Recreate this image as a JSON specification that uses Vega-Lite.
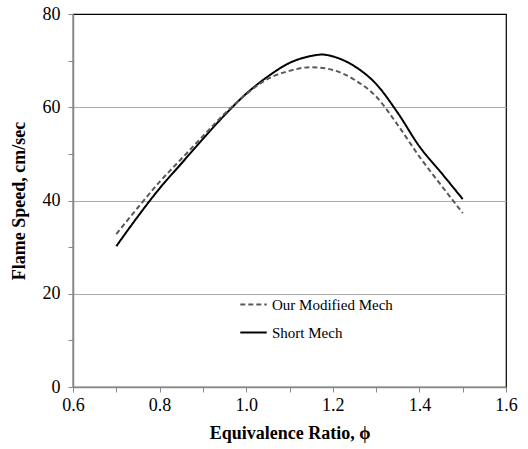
{
  "$schema": "https://vega.github.io/schema/vega-lite/v6.json",
  "width": 433,
  "height": 373,
  "autosize": "none",
  "padding": {"left": 73, "top": 14, "right": 22, "bottom": 62},
  "background": "white",
  "config": {
    "font": "Liberation Serif",
    "view": {"stroke": "#000", "strokeWidth": 1.2}
  },
  "data": {
    "values": [
      {"phi": 0.7, "speed": 30.2, "mech": "Short Mech"},
      {"phi": 0.75, "speed": 36.6, "mech": "Short Mech"},
      {"phi": 0.8, "speed": 42.6, "mech": "Short Mech"},
      {"phi": 0.85, "speed": 47.9, "mech": "Short Mech"},
      {"phi": 0.9, "speed": 53.2, "mech": "Short Mech"},
      {"phi": 0.95, "speed": 58.3, "mech": "Short Mech"},
      {"phi": 1.0, "speed": 62.9, "mech": "Short Mech"},
      {"phi": 1.05, "speed": 66.6, "mech": "Short Mech"},
      {"phi": 1.1, "speed": 69.5, "mech": "Short Mech"},
      {"phi": 1.15, "speed": 71.0, "mech": "Short Mech"},
      {"phi": 1.175, "speed": 71.3, "mech": "Short Mech"},
      {"phi": 1.2, "speed": 70.9, "mech": "Short Mech"},
      {"phi": 1.25, "speed": 68.8, "mech": "Short Mech"},
      {"phi": 1.3, "speed": 65.0, "mech": "Short Mech"},
      {"phi": 1.35, "speed": 58.8, "mech": "Short Mech"},
      {"phi": 1.4, "speed": 51.6, "mech": "Short Mech"},
      {"phi": 1.45, "speed": 46.0, "mech": "Short Mech"},
      {"phi": 1.5, "speed": 40.3, "mech": "Short Mech"},
      {"phi": 0.7, "speed": 32.8, "mech": "Our Modified Mech"},
      {"phi": 0.75, "speed": 38.5, "mech": "Our Modified Mech"},
      {"phi": 0.8, "speed": 44.0, "mech": "Our Modified Mech"},
      {"phi": 0.85, "speed": 48.9, "mech": "Our Modified Mech"},
      {"phi": 0.9, "speed": 53.8, "mech": "Our Modified Mech"},
      {"phi": 0.95, "speed": 58.6, "mech": "Our Modified Mech"},
      {"phi": 1.0, "speed": 62.8, "mech": "Our Modified Mech"},
      {"phi": 1.05, "speed": 66.1, "mech": "Our Modified Mech"},
      {"phi": 1.1, "speed": 67.8, "mech": "Our Modified Mech"},
      {"phi": 1.15, "speed": 68.6, "mech": "Our Modified Mech"},
      {"phi": 1.2, "speed": 68.0, "mech": "Our Modified Mech"},
      {"phi": 1.25, "speed": 65.9, "mech": "Our Modified Mech"},
      {"phi": 1.3, "speed": 62.3, "mech": "Our Modified Mech"},
      {"phi": 1.35, "speed": 56.2, "mech": "Our Modified Mech"},
      {"phi": 1.4, "speed": 49.4, "mech": "Our Modified Mech"},
      {"phi": 1.45, "speed": 43.3, "mech": "Our Modified Mech"},
      {"phi": 1.5, "speed": 37.3, "mech": "Our Modified Mech"}
    ]
  },
  "mark": {"type": "line", "interpolate": "monotone", "strokeWidth": 2},
  "encoding": {
    "x": {
      "field": "phi",
      "type": "quantitative",
      "scale": {"domain": [0.6, 1.6], "nice": false, "zero": false},
      "axis": {
        "title": "Equivalence Ratio, ϕ",
        "titleFont": "Liberation Serif",
        "titleFontSize": 18,
        "titleFontWeight": "bold",
        "titleColor": "#000",
        "titlePadding": 10,
        "values": [0.6, 0.7, 0.8, 0.9, 1.0, 1.1, 1.2, 1.3, 1.4, 1.5, 1.6],
        "labelExpr": "round(datum.value*10) % 2 == 0 ? format(datum.value, '.1f') : ''",
        "labelFont": "Liberation Serif",
        "labelFontSize": 18,
        "labelColor": "#000",
        "labelPadding": 4,
        "labelFlush": false,
        "grid": false,
        "domainColor": "#888",
        "domainWidth": 1.5,
        "tickColor": "#888",
        "tickSize": 5
      }
    },
    "y": {
      "field": "speed",
      "type": "quantitative",
      "scale": {"domain": [0, 80], "nice": false},
      "axis": {
        "title": "Flame Speed, cm/sec",
        "titleFont": "Liberation Serif",
        "titleFontSize": 18,
        "titleFontWeight": "bold",
        "titleColor": "#000",
        "titlePadding": 14,
        "values": [0, 10, 20, 30, 40, 50, 60, 70, 80],
        "labelExpr": "datum.value % 20 == 0 ? datum.label : ''",
        "labelFont": "Liberation Serif",
        "labelFontSize": 18,
        "labelColor": "#000",
        "labelPadding": 8,
        "labelFlush": false,
        "grid": true,
        "gridColor": "#aaa",
        "gridWidth": 1,
        "gridOpacity": {"condition": {"test": "datum.value % 20 == 0 && datum.value > 0 && datum.value < 80", "value": 1}, "value": 0},
        "domainColor": "#888",
        "domainWidth": 1.5,
        "tickColor": "#888",
        "tickSize": 5
      }
    },
    "color": {
      "field": "mech",
      "type": "nominal",
      "scale": {"domain": ["Our Modified Mech", "Short Mech"], "range": ["#595959", "#000000"]},
      "legend": {
        "title": null,
        "orient": "none",
        "legendX": 166,
        "legendY": 276,
        "symbolType": "stroke",
        "symbolSize": 700,
        "symbolStrokeWidth": 2,
        "labelFont": "Liberation Serif",
        "labelFontSize": 15,
        "labelColor": "#000",
        "rowPadding": 5,
        "labelOffset": 4
      }
    },
    "strokeDash": {
      "field": "mech",
      "type": "nominal",
      "scale": {"domain": ["Our Modified Mech", "Short Mech"], "range": [[5, 3], [1, 0]]},
      "legend": null
    }
  }
}
